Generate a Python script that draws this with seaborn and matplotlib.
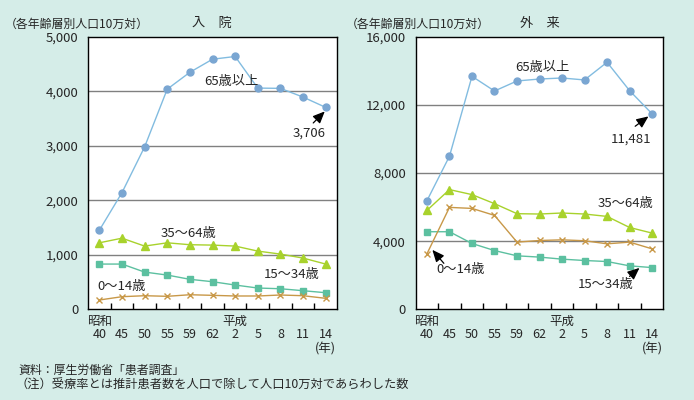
import numpy as np
import pandas as pd
import seaborn as sns
import matplotlib.pyplot as plt
from matplotlib.transforms import blended_transform_factory

# ---------------- data ----------------
years = ["40", "45", "50", "55", "59", "62", "2", "5", "8", "11", "14"]
groups = ["65歳以上", "35～64歳", "15～34歳", "0～14歳"]

# 入院
nyuin_65 = [1450, 2140, 2980, 4040, 4350, 4590, 4640, 4060, 4055, 3895, 3706]
nyuin_35 = [1220, 1305, 1160, 1220, 1185, 1178, 1160, 1068, 1013, 940, 830]
nyuin_15 = [830, 830, 683, 628, 550, 506, 445, 390, 377, 341, 304]
nyuin_0 = [170, 231, 249, 238, 267, 256, 244, 244, 262, 249, 201]

# 外来
gairai_65 = [6380, 8990, 13685, 12820, 13410, 13525, 13585, 13470, 14510, 12845, 11481]
gairai_35 = [5810, 7030, 6735, 6205, 5615, 5595, 5655, 5595, 5455, 4805, 4475]
gairai_15 = [4555, 4555, 3865, 3450, 3140, 3065, 2945, 2865, 2805, 2550, 2450]
gairai_0 = [3260, 5985, 5925, 5515, 3945, 4040, 4080, 4025, 3845, 3945, 3550]

sns.set_theme(style="white")
plt.rcParams['font.family'] = ['Noto Sans CJK JP', 'DejaVu Sans']

bg = "#d5ede8"
colors = {"65歳以上": "#7aa6d2", "35～64歳": "#a8d22c",
          "15～34歳": "#5cc0a0", "0～14歳": "#c89848"}
line_colors = {"65歳以上": "#82bce0", "35～64歳": "#a8d22c",
               "15～34歳": "#5cc0a0", "0～14歳": "#c89848"}
markers = {"65歳以上": "o", "35～64歳": "^", "15～34歳": "s", "0～14歳": "x"}
msize = {"65歳以上": 5, "35～64歳": 5.5, "15～34歳": 4.8, "0～14歳": 4}


def make_df(s65, s35, s15, s0):
    rows = []
    for g, vals in zip(groups, [s65, s35, s15, s0]):
        for i, v in enumerate(vals):
            rows.append({"x": i, "year": years[i], "group": g, "value": v})
    return pd.DataFrame(rows)


df_n = make_df(nyuin_65, nyuin_35, nyuin_15, nyuin_0)
df_g = make_df(gairai_65, gairai_35, gairai_15, gairai_0)

W, H = 694, 400
fig = plt.figure(figsize=(6.94, 4.00), dpi=100)
fig.patch.set_facecolor(bg)
ax1 = fig.add_axes([0.1268, 0.2268, 0.3588, 0.681])
ax2 = fig.add_axes([0.599, 0.2268, 0.3568, 0.681])


def draw(ax, df, ymax, ystep):
    ax.set_facecolor("white")
    for g in groups:
        sub = df[df["group"] == g]
        sns.lineplot(data=sub, x="x", y="value", ax=ax, color=line_colors[g],
                     lw=1.0, zorder=2)
        ax.plot(sub["x"], sub["value"], ls="none", marker=markers[g],
                ms=msize[g], color=colors[g], mec=colors[g], mew=1.0, zorder=3)
    ax.set_xlim(-0.5, 10.5)
    ax.set_ylim(0, ymax)
    ticks = np.arange(0, ymax + 1, ystep)
    ax.set_yticks(ticks)
    ax.set_yticklabels([f"{v:,}" for v in ticks], fontsize=9.5)
    for v in ticks[1:-1]:
        ax.axhline(v, color="#808080", lw=1.0, zorder=1)
    ax.set_xticks(range(len(years)))
    ax.set_xticklabels(years, fontsize=9)
    ax.set_xticks(np.arange(0.5, 10, 1.0), minor=True)
    ax.tick_params(axis="x", which="major", length=0, pad=13.5)
    ax.tick_params(axis="x", which="minor", direction="in", length=4,
                   width=1, color="black", bottom=True)
    ax.tick_params(axis="y", length=0, pad=7)
    ax.set_xlabel("")
    ax.set_ylabel("")
    for s in ax.spines.values():
        s.set_color("black")
        s.set_linewidth(1.0)
    tr = blended_transform_factory(ax.transData, ax.transAxes)
    ax.text(0, -0.045, "昭和", transform=tr, ha="center", va="center", fontsize=9)
    ax.text(6, -0.045, "平成", transform=tr, ha="center", va="center", fontsize=9)
    ax.text(10, -0.145, "(年)", transform=tr, ha="center", va="center", fontsize=9)


draw(ax1, df_n, 5000, 1000)
draw(ax2, df_g, 16000, 4000)

# titles and y unit labels (in figure pixels)
fig.text(5 / W, 1 - 24 / H, "（各年齢層別人口10万対）", fontsize=8.6, va="center", ha="left")
fig.text(212 / W, 1 - 24 / H, "入　院", fontsize=9.5, va="center", ha="center")
fig.text(346 / W, 1 - 24 / H, "（各年齢層別人口10万対）", fontsize=8.6, va="center", ha="left")
fig.text(540 / W, 1 - 24 / H, "外　来", fontsize=9.5, va="center", ha="center")

arrow = dict(arrowstyle="-|>,head_length=0.8,head_width=0.35", color="black",
             lw=0.9, mutation_scale=9, shrinkA=0, shrinkB=0)

# series labels 入院
ax1.text(4.62, 4180, "65歳以上", fontsize=9.5, ha="left", va="center")
ax1.text(8.55, 3230, f"{nyuin_65[-1]:,}", fontsize=9.5, ha="left", va="center")
ax1.annotate("", xy=(9.96, 3632), xytext=(9.45, 3420), arrowprops=arrow)
ax1.text(2.71, 1400, "35～64歳", fontsize=9.5, ha="left", va="center")
ax1.text(7.25, 630, "15～34歳", fontsize=9.5, ha="left", va="center")
ax1.text(-0.09, 427, "0～14歳", fontsize=9.5, ha="left", va="center")

# series labels 外来
ax2.text(3.92, 14200, "65歳以上", fontsize=9.5, ha="left", va="center")
ax2.text(8.15, 9970, f"{gairai_65[-1]:,}", fontsize=9.5, ha="left", va="center")
ax2.annotate("", xy=(9.84, 11330), xytext=(9.25, 10750), arrowprops=arrow)
ax2.text(7.57, 6200, "35～64歳", fontsize=9.5, ha="left", va="center")
ax2.text(0.41, 2315, "0～14歳", fontsize=9.5, ha="left", va="center")
ax2.annotate("", xy=(0.24, 3490), xytext=(0.75, 2700), arrowprops=arrow)
ax2.text(6.68, 1430, "15～34歳", fontsize=9.5, ha="left", va="center")
ax2.annotate("", xy=(9.44, 2430), xytext=(9.0, 1930), arrowprops=arrow)

# footnotes
fig.text(18 / W, 1 - 370 / H, "資料：厚生労働省「患者調査」", fontsize=8.6, va="center", ha="left")
fig.text(16 / W, 1 - 385 / H, "（注）受療率とは推計患者数を人口で除して人口10万対であらわした数",
         fontsize=8.8, va="center", ha="left")

fig.savefig("out.png", dpi=100, facecolor=bg)
